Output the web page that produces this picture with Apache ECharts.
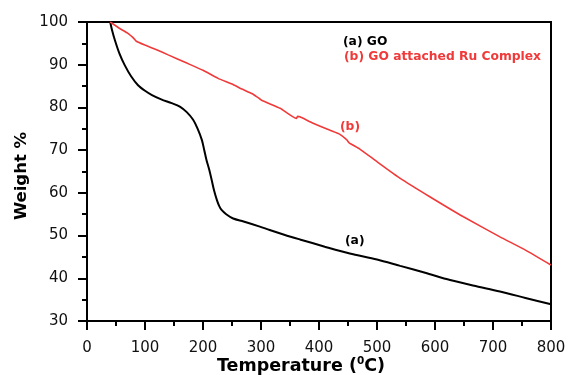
<!DOCTYPE html>
<html><head><meta charset="utf-8">
<script src="https://cdn.jsdelivr.net/npm/echarts@6/dist/echarts.min.js"></script>
<style>html,body{margin:0;padding:0;background:#fff}#c{width:569px;height:375px}</style>
</head><body><div id="c"></div>
<script>
// GO (a): [temperature, weight %]
var goTemp   = [40, 43, 48, 56, 65, 76, 88, 100, 112, 128, 146, 160, 172, 183, 191, 198, 202, 206, 211, 215, 219, 224, 228, 232, 240, 252, 270, 298, 315, 340, 367, 410, 453, 500, 540, 583, 626, 670, 712, 756, 800];
var goWeight = [100, 98.2, 95.8, 92.6, 89.9, 87.3, 85.2, 83.9, 82.9, 81.9, 81.0, 80.2, 78.9, 77.1, 74.9, 72.4, 70.1, 67.7, 65.3, 63.0, 60.6, 58.3, 56.9, 56.0, 55.0, 54.0, 53.3, 52.1, 51.3, 50.2, 49.1, 47.4, 45.8, 44.4, 42.9, 41.3, 39.6, 38.2, 36.9, 35.4, 33.9];
// GO attached Ru Complex (b)
var ruTemp   = [40, 55, 70, 78, 81, 85, 100, 120, 140, 170, 200, 226, 250, 267, 285, 301, 333, 361, 363, 367, 390, 420, 436, 448, 452, 471, 500, 540, 591, 649, 712, 756, 800];
var ruWeight = [100, 98.6, 97.4, 96.5, 96.1, 95.5, 94.6, 93.5, 92.3, 90.5, 88.7, 86.8, 85.5, 84.3, 83.2, 81.7, 79.8, 77.4, 77.9, 77.8, 76.3, 74.6, 73.7, 72.4, 71.7, 70.2, 67.3, 63.4, 59.1, 54.4, 49.7, 46.6, 43.1];
var xTicks = [0, 100, 200, 300, 400, 500, 600, 700, 800];
var yTicks = [30, 40, 50, 60, 70, 80, 90, 100];

function zip(a, b) { return a.map(function (v, i) { return [v, b[i]]; }); }

var chart = echarts.init(document.getElementById('c'), null, {renderer: 'canvas'});
var axisCommon = {
  axisLine: {show: true, lineStyle: {color: '#000', width: 2}},
  axisTick: {show: true, inside: false, length: 9, lineStyle: {color: '#000', width: 2}},
  minorTick: {show: true, splitNumber: 2, length: 5, lineStyle: {color: '#000', width: 2}},
  splitLine: {show: false},
  axisLabel: {color: '#111', fontFamily: 'DejaVu Sans', fontSize: 15}
};
var ann = {fontFamily: 'DejaVu Sans', fontWeight: 'bold', fontSize: 12.3};
chart.setOption({
  animation: false,
  backgroundColor: '#fff',
  grid: {left: 87, right: 18, top: 22, bottom: 54, show: true, borderColor: '#000', borderWidth: 2, backgroundColor: 'transparent'},
  xAxis: Object.assign({}, axisCommon, {
    type: 'value', min: xTicks[0], max: xTicks[xTicks.length - 1], interval: 100,
    axisLabel: Object.assign({}, axisCommon.axisLabel, {margin: 20})
  }),
  yAxis: Object.assign({}, axisCommon, {
    type: 'value', min: yTicks[0], max: yTicks[yTicks.length - 1], interval: 10,
    axisLabel: Object.assign({}, axisCommon.axisLabel, {margin: 19})
  }),
  series: [
    {name: '(a) GO', type: 'line', data: zip(goTemp, goWeight), showSymbol: false, smooth: 0.3,
      lineStyle: {color: '#000', width: 2}},
    {name: '(b) GO attached Ru Complex', type: 'line', data: zip(ruTemp, ruWeight), showSymbol: false, smooth: 0.15,
      lineStyle: {color: '#f03a3a', width: 1.6}}
  ],
  graphic: [
    {type: 'text', x: 301, y: 366, style: {text: '{t|Temperature (}{s|0}{t|C)}', align: 'center', verticalAlign: 'middle',
      rich: {t: {fontFamily: 'DejaVu Sans', fontWeight: 'bold', fontSize: 17.5, fill: '#000'},
             s: {fontFamily: 'DejaVu Sans', fontWeight: 'bold', fontSize: 10.5, fill: '#000', verticalAlign: 'top', padding: [0, 0, 9, 0]}}}},
    {type: 'text', x: 22, y: 176, rotation: Math.PI / 2, style: {text: 'Weight %', align: 'center', verticalAlign: 'middle',
      fontFamily: 'DejaVu Sans', fontWeight: 'bold', fontSize: 16.5, fill: '#000'}},
    {type: 'text', left: 343, top: 36, style: Object.assign({text: '(a) GO', fill: '#000'}, ann)},
    {type: 'text', left: 344, top: 51, style: Object.assign({text: '(b) GO attached Ru Complex', fill: '#f03a3a'}, ann)},
    {type: 'text', left: 340, top: 121, style: Object.assign({text: '(b)', fill: '#f03a3a'}, ann)},
    {type: 'text', left: 345, top: 235, style: Object.assign({text: '(a)', fill: '#000'}, ann)}
  ]
});
</script></body></html>
